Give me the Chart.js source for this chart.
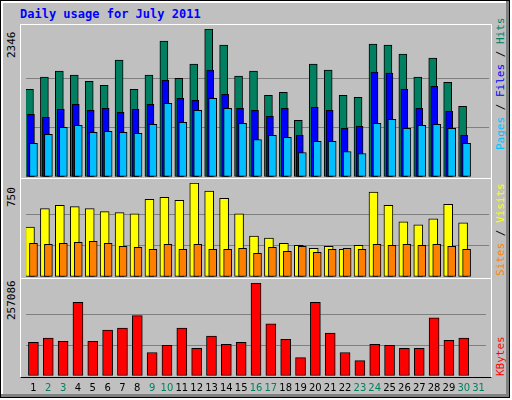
<!DOCTYPE html>
<html>
<head>
<meta charset="UTF-8">
<title>Daily usage for July 2011</title>
<script src="https://cdn.jsdelivr.net/npm/chart.js"></script>
<style>
  body { margin: 0; background: #fff; overflow: hidden; }
  #frame {
    position: absolute; left: 0; top: 0; width: 508px; height: 396px;
    background: #c0c0c0; border: 1px solid #000;
    box-shadow: inset -3px -3px 0 #808080, inset 2px 2px 0 #fff;
  }
  #title {
    position: absolute; left: 20px; top: 7px;
    font: bold 12px "DejaVu Sans Mono", monospace; color: #0000ff;
  }
  .box { position: absolute; left: 20px; width: 470px; border-top: 1px solid #fff; border-right: 1px solid #fff; border-left: 1px solid #fff; border-bottom: 1px solid #000; }
  .cv { position: absolute; left: 21px; }
  .vl { position: absolute; transform-origin: left top; transform: rotate(-90deg); white-space: nowrap;
        font: 11px "DejaVu Sans Mono", monospace; }
</style>
</head>
<body>
<div id="frame"></div>
<div id="title">Daily usage for July 2011</div>

<div class="box" style="top:24px;height:153px"></div>
<div class="box" style="top:178px;height:99px"></div>
<div class="box" style="top:278px;height:98px"></div>

<div class="cv" style="top:25px;width:470px;height:152px"><canvas id="c1"></canvas></div>
<div class="cv" style="top:179px;width:470px;height:98px"><canvas id="c2"></canvas></div>
<div class="cv" style="top:279px;width:470px;height:121px"><canvas id="c3"></canvas></div>

<div class="vl" style="left:5px;top:58px">2346</div>
<div class="vl" style="left:5px;top:207px">750</div>
<div class="vl" style="left:5px;top:320px">257086</div>

<div class="vl" style="left:494px;top:150px"><span style="color:#00c0ff">Pages</span> / <span style="color:#0000ff">Files</span> / <span style="color:#008060">Hits</span></div>
<div class="vl" style="left:494px;top:276px"><span style="color:#ff8000">Sites</span> / <span style="color:#ffff00">Visits</span></div>
<div class="vl" style="left:494px;top:376px"><span style="color:#ff0000">KBytes</span></div>

<script>
var days = ['1','2','3','4','5','6','7','8','9','10','11','12','13','14','15','16','17','18','19','20','21','22','23','24','25','26','27','28','29','30','31'];
var weekend = [2,3,9,10,16,17,23,24,30,31];

var hits  = [1391,1582,1677,1614,1518,1455,1853,1391,1614,2155,1566,1789,2346,2091,1598,1677,1296,1343,898,1789,1694,1296,1264,2107,2091,1948,1582,1885,1502,1121,null];
var files = [993,946,1073,1152,1057,1089,1025,1073,1152,1534,1248,1216,1694,1311,1089,1057,961,1089,659,1105,1057,770,802,1662,1646,1391,1089,1439,1041,659,null];
var pages = [532,675,786,818,707,723,707,691,834,1168,866,1057,1248,1089,850,595,659,627,388,564,564,404,373,850,914,770,818,834,770,532,null];

var visits = [399,546,571,562,546,522,514,505,620,636,611,750,685,628,505,326,310,269,253,228,245,220,253,677,571,440,416,465,579,432,null];
var sites  = [269,261,269,277,285,269,245,236,220,261,220,261,220,220,228,188,236,204,245,196,220,228,220,261,253,261,253,261,245,220,null];

var kbytes = [93230,104530,96050,203410,96050,127130,132780,166680,64980,84750,132780,76280,110180,87580,93230,257086,144080,101700,50850,203410,118650,64980,42380,87580,84750,76280,76280,161030,98880,104530,null];

var maxHits = 2346, maxVisits = 750, maxKB = 257086;

// shifts bars sideways so they overlap like the original
var shiftPlugin = {
  id: 'shift',
  afterDatasetsUpdate: function(chart) {
    chart.data.datasets.forEach(function(ds, i) {
      var meta = chart.getDatasetMeta(i);
      meta.data.forEach(function(el) { el.x += (ds.shift || 0); });
    });
  }
};

function panel(id, datasets, max, showX) {
  return new Chart(document.getElementById(id), {
    type: 'bar',
    data: { labels: days, datasets: datasets },
    plugins: [shiftPlugin],
    options: {
      responsive: true, maintainAspectRatio: false, animation: false,
      layout: { padding: { left: 5, right: 2, top: 4, bottom: 0 } },
      plugins: { legend: { display: false }, tooltip: { enabled: false } },
      datasets: { bar: { grouped: false, borderColor: '#000', borderWidth: 1, borderSkipped: false } },
      scales: {
        x: {
          display: showX,
          grid: { display: false, drawTicks: false },
          border: { display: false },
          ticks: {
            font: { family: 'DejaVu Sans', size: 10 }, padding: 6, maxRotation: 0, autoSkip: false,
            color: function(c) { return weekend.indexOf(c.index + 1) >= 0 ? '#008060' : '#000'; }
          }
        },
        y: {
          min: 0, max: max,
          afterBuildTicks: function(s) { s.ticks = [{value: 0}, {value: max / 3}, {value: max * 2 / 3}, {value: max}]; },
          ticks: { display: false },
          border: { display: false },
          grid: { drawTicks: false, lineWidth: 1,
            color: function(c) { return (c.index === 1 || c.index === 2) ? '#808080' : 'rgba(0,0,0,0)'; } }
        }
      }
    }
  });
}

panel('c1', [
  { data: hits,  backgroundColor: '#008060', barThickness: 8, shift: -4, order: 3 },
  { data: files, backgroundColor: '#0000ff', barThickness: 7, shift: -2.5, order: 2 },
  { data: pages, backgroundColor: '#00c0ff', barThickness: 8, shift: 0, order: 1 }
], maxHits, false);

panel('c2', [
  { data: visits, backgroundColor: '#ffff00', barThickness: 9, shift: -3.5, order: 2 },
  { data: sites,  backgroundColor: '#ff8000', barThickness: 8, shift: 0, order: 1 }
], maxVisits, false);

panel('c3', [
  { data: kbytes, backgroundColor: '#ff0000', barThickness: 10, shift: 0 }
], maxKB, true);
</script>
</body>
</html>
